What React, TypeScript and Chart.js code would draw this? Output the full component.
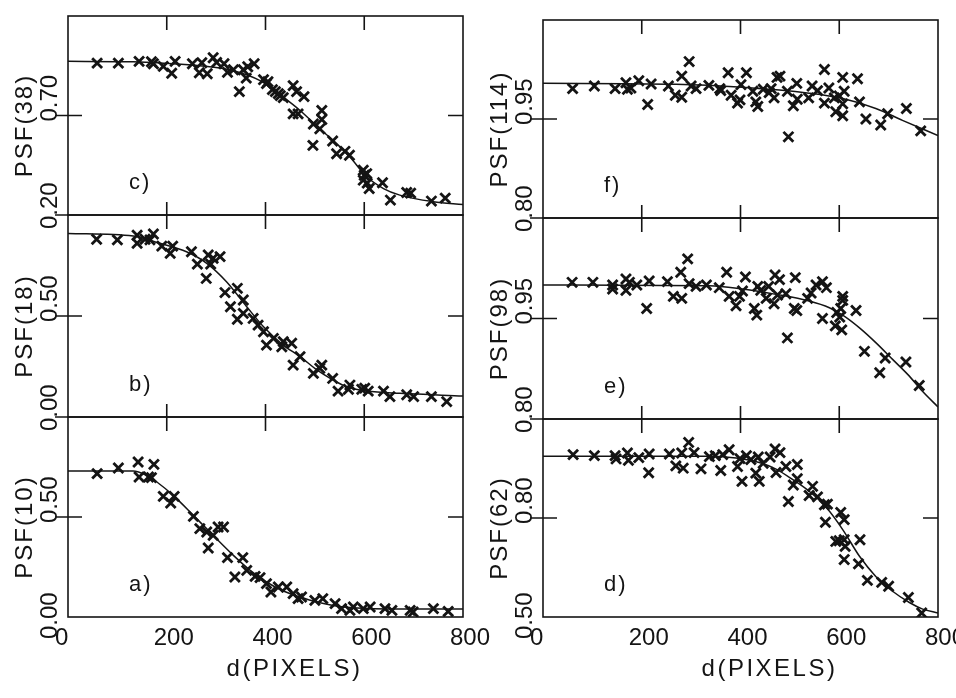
import React, { useEffect, useRef } from "react";
import { Chart, registerables } from "chart.js";

Chart.register(...registerables);

// ---------- shared axis data ----------
const X_TICKS = [0, 200, 400, 600, 800];
const X_TICK_LABELS = ["0", "200", "400", "600", "800"];
const X_TITLE = "d(PIXELS)";

// ---------- panel c : PSF(38) ----------
const distC = [59, 102, 144, 169, 173, 193, 210, 217, 252, 266, 271, 282, 294, 301, 316, 323, 335, 347, 355, 361, 364, 377, 396, 402, 405, 414, 420, 426, 430, 436, 456, 463, 478, 456, 466, 497, 496, 510, 514, 514, 536, 544, 561, 570, 598, 600, 605, 598, 606, 610, 637, 653, 686, 694, 736, 764];
const psfC = [0.963, 0.963, 0.972, 0.97, 0.96, 0.947, 0.912, 0.972, 0.96, 0.915, 0.965, 0.91, 0.99, 0.967, 0.96, 0.917, 0.93, 0.82, 0.93, 0.888, 0.945, 0.96, 0.88, 0.86, 0.87, 0.83, 0.82, 0.81, 0.8, 0.79, 0.85, 0.82, 0.795, 0.708, 0.708, 0.657, 0.55, 0.633, 0.725, 0.68, 0.572, 0.508, 0.52, 0.5, 0.425, 0.4, 0.408, 0.375, 0.36, 0.333, 0.362, 0.275, 0.313, 0.31, 0.27, 0.285];
const fitDistC = [0, 132, 200, 267, 335, 389, 436, 470, 510, 537, 571, 605, 639, 672, 740, 800];
const fitPsfC = [0.972, 0.97, 0.962, 0.95, 0.925, 0.875, 0.792, 0.725, 0.633, 0.575, 0.492, 0.392, 0.333, 0.3, 0.267, 0.253];

// ---------- panel b : PSF(18) ----------
const distB = [58, 100, 140, 140, 156, 166, 173, 190, 207, 212, 250, 262, 280, 284, 294, 289, 308, 318, 343, 355, 329, 343, 355, 375, 385, 396, 402, 416, 433, 436, 453, 456, 470, 497, 510, 514, 536, 547, 568, 571, 595, 601, 608, 639, 652, 686, 700, 736, 767];
const psfB = [0.88, 0.877, 0.9, 0.86, 0.88, 0.877, 0.906, 0.846, 0.81, 0.846, 0.818, 0.757, 0.686, 0.802, 0.786, 0.757, 0.794, 0.616, 0.637, 0.579, 0.546, 0.484, 0.513, 0.488, 0.455, 0.422, 0.356, 0.389, 0.348, 0.373, 0.365, 0.257, 0.299, 0.216, 0.241, 0.257, 0.191, 0.128, 0.137, 0.158, 0.137, 0.143, 0.128, 0.128, 0.101, 0.11, 0.101, 0.101, 0.076];
const fitDistB = [0, 132, 186, 240, 281, 321, 362, 396, 436, 470, 504, 537, 564, 605, 672, 800];
const fitPsfB = [0.909, 0.896, 0.86, 0.818, 0.761, 0.67, 0.546, 0.447, 0.356, 0.299, 0.233, 0.183, 0.15, 0.129, 0.117, 0.104];

// ---------- panel a : PSF(10) ----------
const distA = [59, 102, 142, 144, 163, 169, 174, 193, 208, 215, 254, 267, 281, 284, 294, 304, 315, 323, 338, 354, 362, 379, 389, 402, 411, 426, 443, 456, 466, 473, 500, 516, 541, 554, 571, 578, 598, 612, 642, 656, 693, 699, 740, 770];
const psfA = [0.717, 0.745, 0.775, 0.7, 0.7, 0.697, 0.763, 0.603, 0.57, 0.603, 0.503, 0.442, 0.425, 0.345, 0.408, 0.45, 0.45, 0.297, 0.2, 0.297, 0.233, 0.203, 0.197, 0.167, 0.125, 0.15, 0.15, 0.117, 0.092, 0.1, 0.083, 0.092, 0.067, 0.042, 0.033, 0.05, 0.042, 0.05, 0.042, 0.033, 0.033, 0.025, 0.042, 0.028];
const fitDistA = [0, 132, 159, 180, 213, 254, 294, 335, 369, 402, 436, 470, 504, 537, 571, 605, 672, 800];
const fitPsfA = [0.73, 0.73, 0.708, 0.675, 0.608, 0.508, 0.408, 0.308, 0.233, 0.175, 0.13, 0.1, 0.075, 0.058, 0.047, 0.042, 0.04, 0.04];

// ---------- panel f : PSF(114) ----------
const distF = [60, 104, 146, 168, 171, 178, 194, 212, 219, 254, 268, 281, 281, 296, 300, 310, 336, 358, 360, 375, 381, 399, 394, 401, 412, 425, 435, 431, 446, 458, 462, 468, 474, 480, 495, 497, 507, 514, 515, 538, 545, 556, 570, 570, 579, 590, 593, 607, 610, 607, 607, 600, 637, 641, 654, 684, 698, 736, 765];
const psfF = [0.996, 1.0, 0.996, 1.005, 0.995, 0.997, 1.008, 0.972, 1.003, 1.0, 0.986, 0.983, 1.015, 1.037, 1.0, 0.996, 1.001, 0.996, 0.993, 1.02, 0.986, 0.979, 0.974, 1.002, 1.02, 0.992, 0.969, 0.976, 0.995, 0.99, 0.996, 0.982, 1.013, 1.015, 0.992, 0.923, 0.97, 1.004, 0.98, 0.982, 1.0, 0.993, 1.025, 0.974, 0.997, 0.982, 0.961, 1.013, 0.992, 0.973, 0.955, 0.985, 1.011, 0.976, 0.95, 0.941, 0.958, 0.966, 0.932];
const fitDistF = [0, 269, 404, 539, 607, 674, 728, 800];
const fitPsfF = [1.004, 1.0026, 0.998, 0.989, 0.981, 0.966, 0.948, 0.925];

// ---------- panel e : PSF(98) ----------
const distE = [59, 101, 141, 141, 168, 168, 175, 190, 210, 215, 252, 264, 279, 281, 293, 296, 310, 331, 357, 372, 377, 391, 398, 410, 404, 428, 433, 435, 441, 452, 457, 468, 470, 475, 479, 492, 495, 509, 514, 511, 536, 543, 553, 566, 566, 574, 607, 607, 603, 595, 601, 592, 605, 634, 651, 682, 693, 735, 762];
const psfE = [1.004, 1.004, 1.0, 0.994, 1.009, 0.992, 1.004, 1.0, 0.965, 1.006, 1.005, 0.983, 1.019, 0.98, 1.039, 1.002, 0.998, 1.0, 0.996, 1.019, 0.983, 0.969, 0.983, 1.012, 0.991, 0.965, 0.955, 0.998, 0.992, 0.98, 0.998, 0.972, 1.015, 0.985, 1.008, 0.987, 0.921, 0.965, 0.962, 1.011, 0.98, 0.988, 1.0, 1.005, 0.95, 0.996, 0.983, 0.977, 0.965, 0.959, 0.952, 0.939, 0.933, 0.962, 0.901, 0.869, 0.891, 0.885, 0.85];
const fitDistE = [0, 337, 404, 472, 539, 580, 607, 641, 674, 708, 742, 769, 800];
const fitPsfE = [1.0, 0.999, 0.994, 0.986, 0.976, 0.966, 0.955, 0.936, 0.914, 0.889, 0.864, 0.841, 0.818];

// ---------- panel d : PSF(62) ----------
const distD = [61, 104, 146, 148, 171, 173, 194, 215, 214, 256, 269, 281, 284, 295, 306, 320, 337, 349, 360, 364, 377, 394, 399, 403, 412, 421, 431, 436, 438, 446, 460, 470, 480, 472, 492, 497, 507, 515, 515, 539, 546, 556, 570, 572, 576, 603, 610, 593, 600, 610, 612, 610, 642, 639, 657, 686, 700, 740, 767];
const psfD = [0.992, 0.989, 0.989, 0.979, 0.997, 0.975, 0.983, 0.994, 0.937, 0.994, 0.958, 0.997, 0.951, 1.029, 0.998, 0.949, 0.986, 0.989, 0.944, 0.992, 1.007, 0.956, 0.98, 0.911, 0.989, 0.977, 0.936, 0.985, 0.911, 0.966, 0.985, 1.009, 0.998, 0.938, 0.956, 0.85, 0.9, 0.962, 0.919, 0.868, 0.896, 0.864, 0.84, 0.787, 0.842, 0.817, 0.795, 0.729, 0.731, 0.734, 0.714, 0.674, 0.734, 0.661, 0.611, 0.605, 0.593, 0.559, 0.512];
const fitDistD = [0, 337, 391, 438, 472, 506, 539, 573, 607, 641, 674, 708, 742, 769, 800];
const fitPsfD = [0.987, 0.987, 0.982, 0.968, 0.948, 0.916, 0.881, 0.833, 0.765, 0.684, 0.623, 0.578, 0.544, 0.524, 0.512];

// ---------- y ticks ----------
const yTicksC = [0.2, 0.7];
const yTickLabelsC = ["0.20", "0.70"];
const yTicksB = [0.0, 0.5];
const yTickLabelsB = ["0.00", "0.50"];
const yTicksA = [0.0, 0.5];
const yTickLabelsA = ["0.00", "0.50"];
const yTicksF = [0.8, 0.95];
const yTickLabelsF = ["0.80", "0.95"];
const yTicksE = [0.8, 0.95];
const yTickLabelsE = ["0.80", "0.95"];
const yTicksD = [0.5, 0.8];
const yTickLabelsD = ["0.50", "0.80"];

// ---------- layout (positions only) ----------
const W = 956;
const H = 698;
const FACE = '"Liberation Sans", Arial, sans-serif';
const SIZE = 24;
const INK = "#141414";

type Panel = {
  title: string;
  letter: string;
  dist: number[];
  psf: number[];
  fitDist: number[];
  fitPsf: number[];
  yMin: number;
  yMax: number;
  yTicks: number[];
  yTickLabels: string[];
  box: { l: number; t: number; r: number; b: number };
  isBottom: boolean;
};

const PANELS: Panel[] = [
  { title: "PSF(38)", letter: "c)", dist: distC, psf: psfC, fitDist: fitDistC, fitPsf: fitPsfC, yMin: 0.2, yMax: 1.2, yTicks: yTicksC, yTickLabels: yTickLabelsC, box: { l: 68, t: 16, r: 463, b: 215 }, isBottom: false },
  { title: "PSF(18)", letter: "b)", dist: distB, psf: psfB, fitDist: fitDistB, fitPsf: fitPsfB, yMin: 0, yMax: 1.0, yTicks: yTicksB, yTickLabels: yTickLabelsB, box: { l: 68, t: 215, r: 463, b: 417 }, isBottom: false },
  { title: "PSF(10)", letter: "a)", dist: distA, psf: psfA, fitDist: fitDistA, fitPsf: fitPsfA, yMin: 0, yMax: 1.0, yTicks: yTicksA, yTickLabels: yTickLabelsA, box: { l: 68, t: 417, r: 463, b: 617 }, isBottom: true },
  { title: "PSF(114)", letter: "f)", dist: distF, psf: psfF, fitDist: fitDistF, fitPsf: fitPsfF, yMin: 0.8, yMax: 1.1, yTicks: yTicksF, yTickLabels: yTickLabelsF, box: { l: 543, t: 20, r: 938, b: 218 }, isBottom: false },
  { title: "PSF(98)", letter: "e)", dist: distE, psf: psfE, fitDist: fitDistE, fitPsf: fitPsfE, yMin: 0.8, yMax: 1.1, yTicks: yTicksE, yTickLabels: yTickLabelsE, box: { l: 543, t: 218, r: 938, b: 419 }, isBottom: false },
  { title: "PSF(62)", letter: "d)", dist: distD, psf: psfD, fitDist: fitDistD, fitPsf: fitPsfD, yMin: 0.5, yMax: 1.1, yTicks: yTicksD, yTickLabels: yTickLabelsD, box: { l: 543, t: 419, r: 938, b: 617 }, isBottom: true },
];

function makeFramePlugin(p: Panel) {
  return {
    id: "frame",
    afterDraw(chart: any) {
      const { ctx, chartArea: a, scales } = chart;
      const x = scales.x;
      const y = scales.y;
      ctx.save();
      ctx.strokeStyle = INK;
      ctx.fillStyle = INK;
      ctx.lineWidth = 1.6;
      ctx.strokeRect(a.left, a.top, a.right - a.left, a.bottom - a.top);

      // inner tick marks
      ctx.beginPath();
      for (const t of X_TICKS.slice(1, -1)) {
        const px = x.getPixelForValue(t);
        ctx.moveTo(px, a.top);
        ctx.lineTo(px, a.top + 14);
        if (!p.isBottom) {
          ctx.moveTo(px, a.bottom);
          ctx.lineTo(px, a.bottom - 13);
        }
      }
      const yMid = y.getPixelForValue(p.yTicks[1]);
      ctx.moveTo(a.left - 13, yMid);
      ctx.lineTo(a.left + 14, yMid);
      ctx.moveTo(a.right - 15, yMid);
      ctx.lineTo(a.right, yMid);
      if (!p.isBottom) {
        const yLow = y.getPixelForValue(p.yTicks[0]);
        ctx.moveTo(a.left - 13, yLow);
        ctx.lineTo(a.left, yLow);
      }
      ctx.stroke();

      // rotated y labels
      const half = SIZE * 0.358;
      const drawRot = (text: string, cx: number, yy: number, align: CanvasTextAlign, spacing: number) => {
        ctx.save();
        ctx.translate(cx + half, yy);
        ctx.rotate(-Math.PI / 2);
        ctx.font = `${SIZE}px ${FACE}`;
        (ctx as any).letterSpacing = `${spacing}px`;
        ctx.textAlign = align;
        ctx.textBaseline = "alphabetic";
        ctx.fillText(text, 0, 0);
        ctx.restore();
      };
      const tickCol = a.left - 19.5;
      const titleCol = a.left - 45;
      const yLowPx = y.getPixelForValue(p.yTicks[0]);
      drawRot(p.yTickLabels[0], tickCol, yLowPx + (p.isBottom ? 22 : 14), "left", 0);
      drawRot(p.yTickLabels[1], tickCol, yMid + 6, "left", 0);
      drawRot(p.title, titleCol, (a.top + a.bottom) / 2 + 10, "center", 2);

      // panel letter
      ctx.font = `${SIZE - 2}px ${FACE}`;
      (ctx as any).letterSpacing = "2px";
      ctx.textAlign = "left";
      ctx.textBaseline = "alphabetic";
      ctx.fillText(p.letter, a.left + 61, a.bottom - 26);

      // x axis labels on bottom panels
      if (p.isBottom) {
        ctx.font = `${SIZE}px ${FACE}`;
        (ctx as any).letterSpacing = "0px";
        X_TICKS.forEach((t, i) => {
          ctx.fillText(X_TICK_LABELS[i], x.getPixelForValue(t) - 13, 645);
        });
        (ctx as any).letterSpacing = "2.5px";
        ctx.textAlign = "center";
        ctx.fillText(X_TITLE, (a.left + a.right) / 2 + 29, 676);
      }
      ctx.restore();
    },
  };
}

function PanelChart({ panel }: { panel: Panel }) {
  const ref = useRef<HTMLCanvasElement | null>(null);
  useEffect(() => {
    if (!ref.current) return;
    const p = panel;
    const chart = new Chart(ref.current, {
      type: "scatter",
      data: {
        datasets: [
          {
            type: "line",
            data: p.fitDist.map((d, i) => ({ x: d, y: p.fitPsf[i] })),
            borderColor: INK,
            borderWidth: 1.5,
            pointRadius: 0,
            fill: false,
            cubicInterpolationMode: "monotone",
          } as any,
          {
            type: "scatter",
            data: p.dist.map((d, i) => ({ x: d, y: p.psf[i] })),
            pointStyle: "crossRot",
            pointRadius: 7,
            borderColor: INK,
            backgroundColor: INK,
            borderWidth: 2.8,
          } as any,
        ],
      },
      options: {
        responsive: false,
        animation: false,
        devicePixelRatio: 1,
        layout: { padding: { left: p.box.l, top: p.box.t, right: W - p.box.r, bottom: H - p.box.b } },
        scales: {
          x: { type: "linear", min: 0, max: 800, display: false },
          y: { type: "linear", min: p.yMin, max: p.yMax, display: false },
        },
        plugins: { legend: { display: false }, tooltip: { enabled: false } },
      },
      plugins: [makeFramePlugin(p)],
    });
    return () => chart.destroy();
  }, [panel]);
  return <canvas ref={ref} width={W} height={H} style={{ position: "absolute", left: 0, top: 0 }} />;
}

export default function App() {
  return (
    <div style={{ position: "absolute", left: 0, top: 0, width: W, height: H, background: "#fff", overflow: "hidden" }}>
      {PANELS.map((p, i) => (
        <PanelChart key={i} panel={p} />
      ))}
    </div>
  );
}
